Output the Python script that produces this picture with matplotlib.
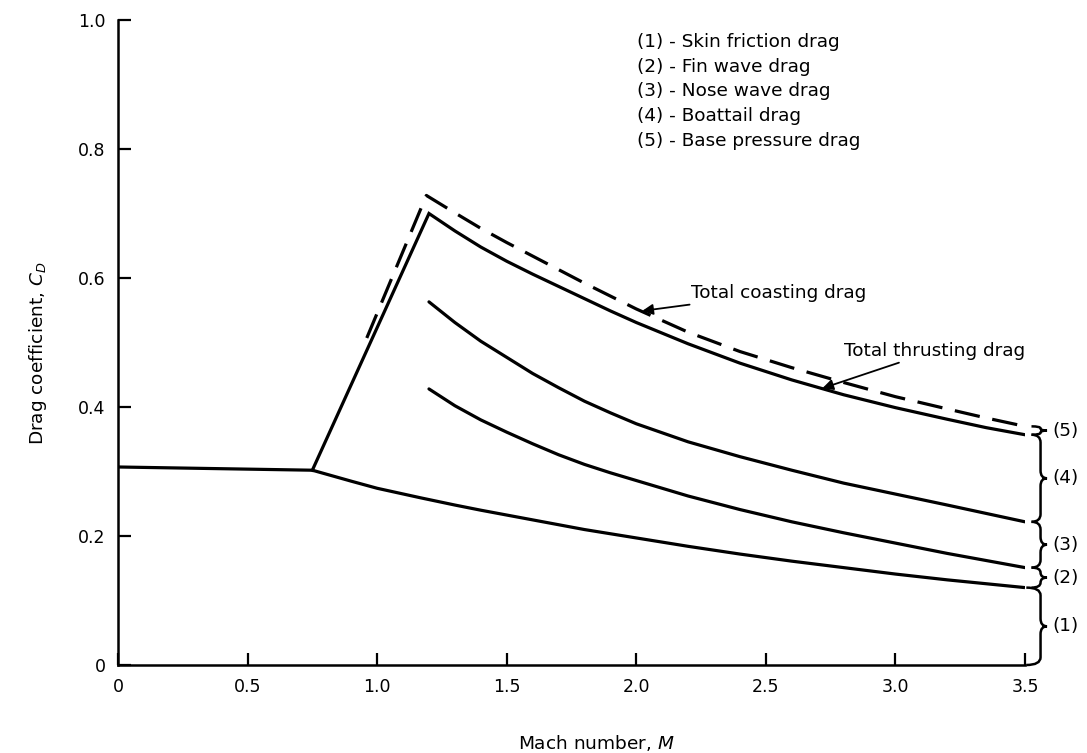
import matplotlib
matplotlib.use('Agg')
import matplotlib.pyplot as plt
from matplotlib.path import Path
import matplotlib.patches as mpatches

plt.rcParams['font.family'] = ['DejaVu Sans']

# Curve data
subsonicM = [0.0, 0.75]
subsonicCd = [0.307, 0.302]

skinM = [0.75, 0.9, 1.0, 1.17, 1.3, 1.4, 1.6, 1.8, 2.0, 2.2, 2.4, 2.6, 2.8, 3.0, 3.2, 3.35, 3.5]
skinCd = [0.302, 0.285, 0.274, 0.259, 0.248, 0.240, 0.225, 0.210, 0.197, 0.184,
          0.172, 0.161, 0.151, 0.141, 0.132, 0.126, 0.120]

curveM = [1.2, 1.3, 1.4, 1.5, 1.6, 1.7, 1.8, 1.9, 2.0, 2.2, 2.4, 2.6, 2.8, 3.0, 3.2, 3.35, 3.5]
finCd = [0.428, 0.402, 0.380, 0.361, 0.343, 0.326, 0.311, 0.298, 0.286, 0.262,
         0.241, 0.222, 0.205, 0.189, 0.173, 0.162, 0.151]
noseCd = [0.563, 0.531, 0.502, 0.477, 0.452, 0.430, 0.409, 0.391, 0.374, 0.346,
          0.323, 0.302, 0.282, 0.265, 0.248, 0.235, 0.222]

thrustM = [0.75] + curveM
thrustCd = [0.302, 0.700, 0.673, 0.648, 0.626, 0.606, 0.587, 0.568, 0.549, 0.531,
            0.498, 0.468, 0.442, 0.419, 0.399, 0.381, 0.368, 0.357]

coastM = [0.96, 1.19, 1.3, 1.4, 1.5, 1.6, 1.7, 1.8, 1.9, 2.0, 2.2, 2.4, 2.6, 2.8,
          3.0, 3.2, 3.35, 3.5]
coastCd = [0.507, 0.728, 0.701, 0.677, 0.655, 0.634, 0.613, 0.592, 0.572, 0.552,
           0.516, 0.486, 0.461, 0.438, 0.416, 0.397, 0.383, 0.370]

xticks = [0, 0.5, 1.0, 1.5, 2.0, 2.5, 3.0, 3.5]
xlabels = ['0', '0.5', '1.0', '1.5', '2.0', '2.5', '3.0', '3.5']
yticks = [0, 0.2, 0.4, 0.6, 0.8, 1.0]
ylabels = ['0', '0.2', '0.4', '0.6', '0.8', '1.0']

legendLines = ['(1) - Skin friction drag',
               '(2) - Fin wave drag',
               '(3) - Nose wave drag',
               '(4) - Boattail drag',
               '(5) - Base pressure drag']
braceLabels = ['(1)', '(2)', '(3)', '(4)', '(5)']

fs = 13.3

fig = plt.figure(figsize=(10.87, 7.53), dpi=100)
ax = fig.add_axes([118/1087, 88/753, 907/1087, 645/753])
ax.set_xlim(0, 3.5)
ax.set_ylim(0, 1.0)

lw = 2.3
ax.plot(subsonicM, subsonicCd, color='k', lw=lw, solid_capstyle='butt')
ax.plot(skinM, skinCd, color='k', lw=lw, solid_capstyle='butt')
ax.plot(curveM, finCd, color='k', lw=lw, solid_capstyle='round')
ax.plot(curveM, noseCd, color='k', lw=lw, solid_capstyle='round')
ax.plot(thrustM, thrustCd, color='k', lw=lw, solid_joinstyle='miter')
ax.plot(coastM, coastCd, color='k', lw=lw, dashes=(8, 4), solid_joinstyle='miter')

# spines / ticks
for s in ['top', 'right']:
    ax.spines[s].set_visible(False)
for s in ['left', 'bottom']:
    ax.spines[s].set_linewidth(1.8)
ax.set_xticks(xticks)
ax.set_xticklabels(xlabels)
ax.set_yticks(yticks)
ax.set_yticklabels(ylabels)
ax.tick_params(direction='in', length=9, width=1.6, labelsize=12.5, pad=9)

# legend text block
for i, t in enumerate(legendLines):
    fig.text(637/1087, 1 - (42 + 24.7*i)/753, t, fontsize=fs, va='center', ha='left')

# annotations
ax.annotate('Total coasting drag', xy=(2.023, 0.549), xytext=(2.21, 0.577),
            fontsize=fs, va='center', ha='left',
            arrowprops=dict(arrowstyle='-|>', color='k', lw=1.3,
                            mutation_scale=16, shrinkA=0, shrinkB=0))
ax.annotate('Total thrusting drag', xy=(2.718, 0.429), xytext=(2.80, 0.487),
            fontsize=fs, va='center', ha='left',
            arrowprops=dict(arrowstyle='-|>', color='k', lw=1.3,
                            mutation_scale=16, shrinkA=0, shrinkB=0))


def brace(ax, y0, y1, x=3.56, xl=3.52, xt=3.585, r=0.012):
    r = min(r, (y1 - y0) / 4.)
    ym = 0.5 * (y0 + y1)
    verts = [(xl, y0), (x, y0), (x, y0 + r), (x, ym - r),
             (x, ym), (xt, ym), (x, ym), (x, ym + r),
             (x, y1 - r), (x, y1), (xl, y1)]
    codes = [Path.MOVETO, Path.CURVE3, Path.CURVE3, Path.LINETO,
             Path.CURVE3, Path.CURVE3, Path.CURVE3, Path.CURVE3,
             Path.LINETO, Path.CURVE3, Path.CURVE3]
    p = mpatches.PathPatch(Path(verts, codes), fc='none', ec='k', lw=1.8,
                           clip_on=False)
    ax.add_patch(p)
    return ym


bounds = [0.0, skinCd[-1], finCd[-1], noseCd[-1], thrustCd[-1], coastCd[-1]]
for i, lab in enumerate(braceLabels):
    xl = 3.505 if i == 0 else 3.525
    ym = brace(ax, bounds[i], bounds[i+1], xl=xl)
    ax.text(3.607, ym, lab, fontsize=fs, va='center', ha='left', clip_on=False)

fig.text(38/1087, 1 - 353/753, 'Drag coefficient, $C_D$', rotation=90,
         fontsize=fs, va='center', ha='center')
fig.text(596/1087, 1 - 743/753, 'Mach number, $M$',
         fontsize=fs, va='center', ha='center')

fig.savefig('out.png', dpi=100)
